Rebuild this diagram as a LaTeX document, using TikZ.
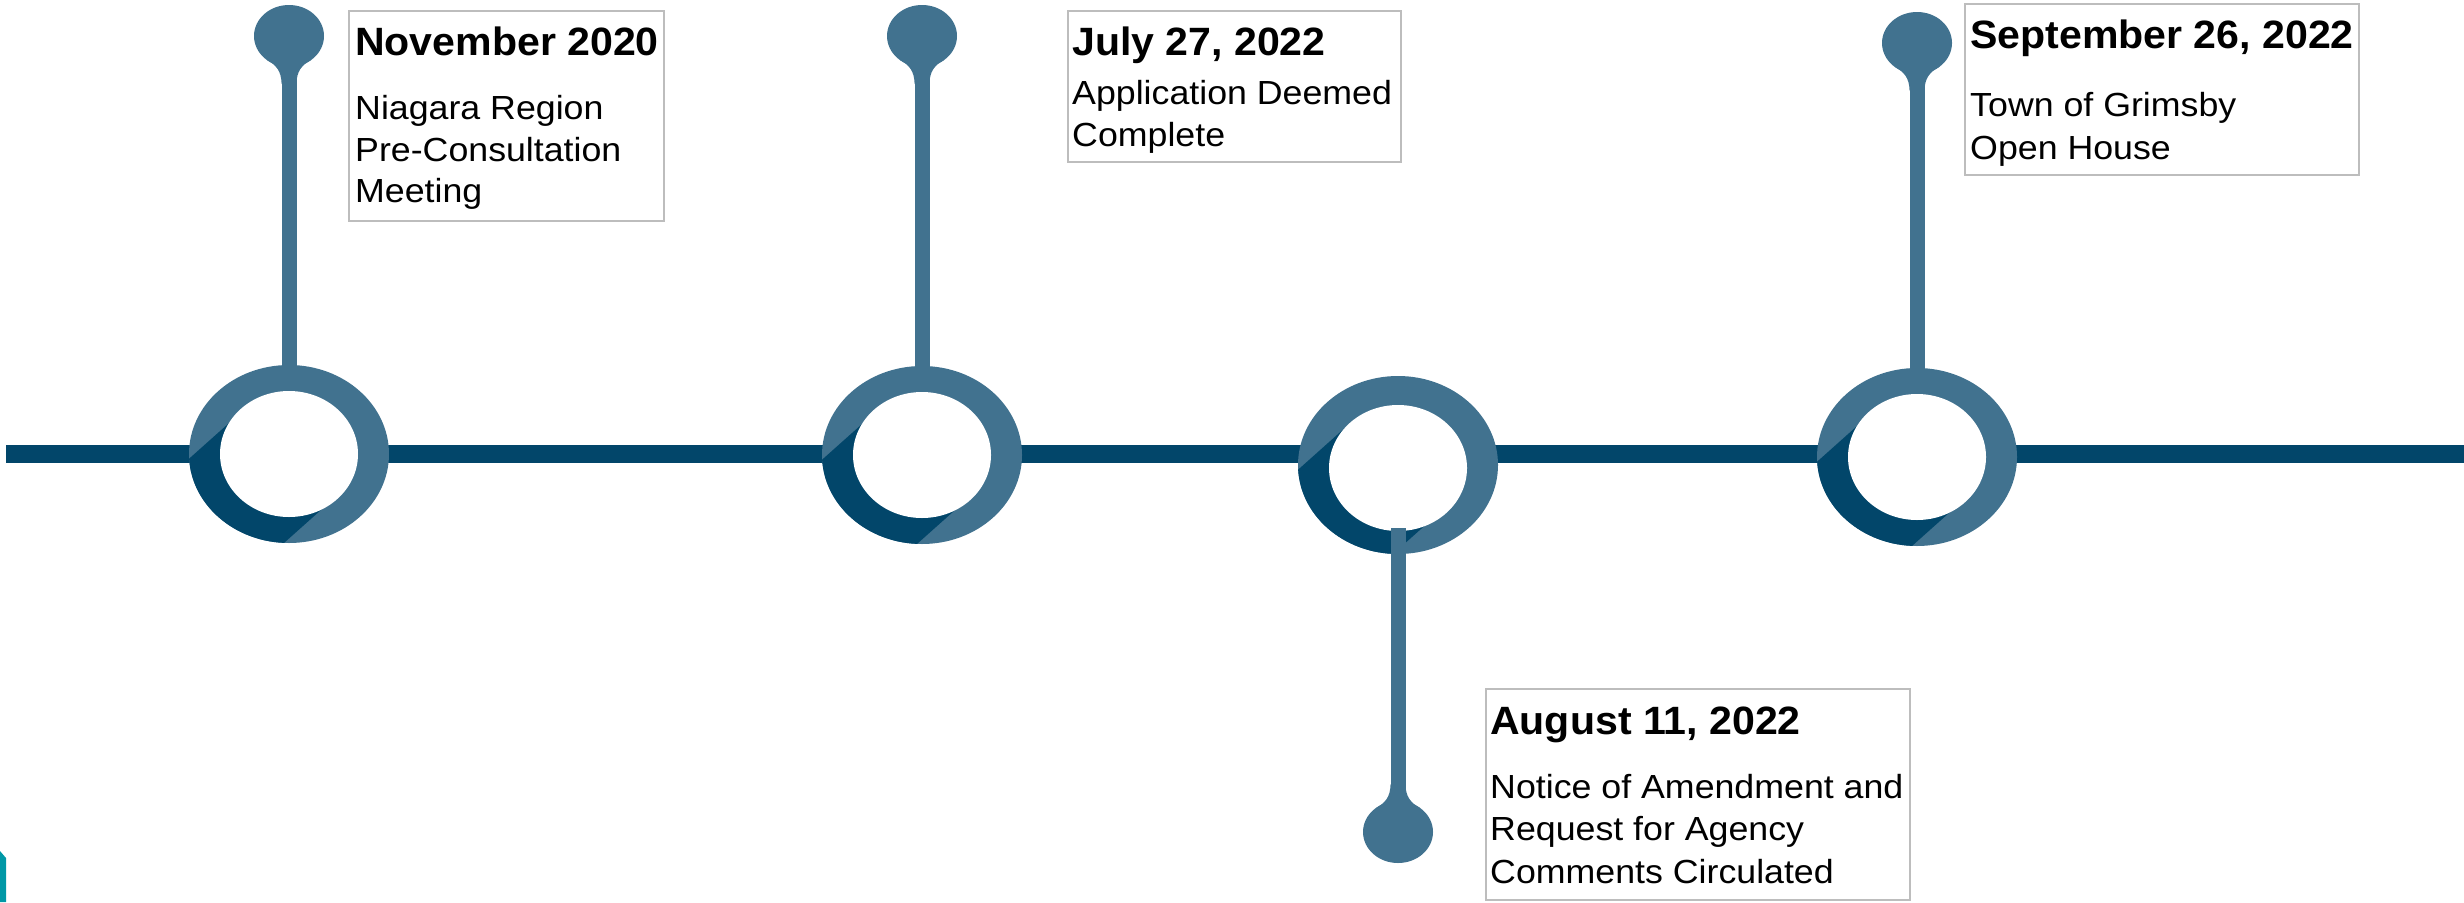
\documentclass[tikz,border=0pt]{standalone}
\usepackage{fontspec}
\setmainfont{Liberation Sans}[FakeStretch=1.07]
\newfontfamily\titlefont{Liberation Sans}[FakeStretch=1.04]
\usetikzlibrary{calc}
\definecolor{pinlight}{HTML}{41728F}
\definecolor{navydark}{HTML}{02466A}
\definecolor{boxgray}{HTML}{BDBDBD}
\definecolor{accentteal}{HTML}{0098A6}
\tikzset{
  ttl/.style={anchor=base west, inner sep=0pt, font=\titlefont\bfseries\fontsize{39.5}{42}\selectfont},
  bdy/.style={anchor=base west, inner sep=0pt, font=\fontsize{33.4}{36}\selectfont},
  infobox/.style={draw=boxgray, line width=2pt, inner sep=0pt, rectangle},
  stemline/.style={draw=pinlight, line width=15pt},
  axisline/.style={draw=navydark, line width=18pt},
}
% ring: x, y, inner vertical offset
\newcommand\timelinering[3]{%
  \fill[pinlight] (#1,#2) ellipse [x radius=100, y radius=89];
  \begin{scope}
    \clip (#1,#2) ++(42,47) -- ++(-84,-94) -- ++(-149,133) -- ++(84,94) -- cycle;
    \fill[navydark] (#1,#2) ellipse [x radius=100, y radius=89];
  \end{scope}
  \fill[white] (#1,#2+#3) ellipse [x radius=69, y radius=63];
}
% pin head: x, y, direction (+1 stem below, -1 stem above)
\newcommand\pinknob[3]{%
  \fill[pinlight] (#1,#2) ellipse [x radius=35, y radius=31];
  \fill[pinlight] (#1-7.5,#2+#3*48) .. controls (#1-7.5,#2+#3*35) and (#1-13,#2+#3*29) .. (#1-22,#2+#3*24) -- (#1,#2) -- cycle;
  \fill[pinlight] (#1+7.5,#2+#3*48) .. controls (#1+7.5,#2+#3*35) and (#1+13,#2+#3*29) .. (#1+22,#2+#3*24) -- (#1,#2) -- cycle;
}
\begin{document}
\begin{tikzpicture}[x=1pt,y=-1pt]
\useasboundingbox (0,0) rectangle (2464,902);

% named anchor points
\coordinate (lstart) at (6,454);
\coordinate (lend) at (2464,454);
\coordinate (r1) at (289,454);
\coordinate (r2) at (922,455);
\coordinate (r3) at (1398,465);
\coordinate (r4) at (1917,457);
\coordinate (p1) at (289,36);
\coordinate (p2) at (922,36);
\coordinate (p3) at (1398,832);
\coordinate (p4) at (1917,43);

% small teal corner mark
\fill[accentteal] (0,902) -- (0,851) -- (6,858) -- (6,902) -- cycle;

% main axis
\draw[axisline] (lstart) -- (lend);

% rings
\timelinering{289}{454}{0}
\timelinering{922}{455}{0}
\timelinering{1398}{465}{3}
\timelinering{1917}{457}{0}

% stems
\draw[stemline] (p1) -- ($(r1)+(0,-84)$);
\draw[stemline] (p2) -- ($(r2)+(0,-84)$);
\draw[stemline] ($(r3)+(0,63)$) -- (p3);
\draw[stemline] (p4) -- ($(r4)+(0,-84)$);

% pin heads
\pinknob{289}{36}{1}
\pinknob{922}{36}{1}
\pinknob{1398}{832}{-1}
\pinknob{1917}{43}{1}

% boxes
\node[infobox, minimum width=315pt, minimum height=210pt] (b1) at (506.5,116) {};
\node[infobox, minimum width=333pt, minimum height=151pt] (b2) at (1234.5,86.5) {};
\node[infobox, minimum width=424pt, minimum height=211pt] (b3) at (1698,794.5) {};
\node[infobox, minimum width=394pt, minimum height=171pt] (b4) at (2162,89.5) {};

% texts
\node[ttl] (t1) at (355,55) {November 2020};
\node[bdy] (t1a) at (355,119) {Niagara Region};
\node[bdy] (t1b) at (355,161) {Pre-Consultation};
\node[bdy] (t1c) at (355,202) {Meeting};

\node[ttl] (t2) at (1072,55) {July 27, 2022};
\node[bdy] (t2a) at (1072,104) {Application Deemed};
\node[bdy] (t2b) at (1072,146) {Complete};

\node[ttl] (t3) at (1490,734) {August 11, 2022};
\node[bdy] (t3a) at (1490,798) {Notice of Amendment and};
\node[bdy] (t3b) at (1490,840) {Request for Agency};
\node[bdy] (t3c) at (1490,883) {Comments Circulated};

\node[ttl] (t4) at (1970,48) {September 26, 2022};
\node[bdy] (t4a) at (1970,116) {Town of Grimsby};
\node[bdy] (t4b) at (1970,159) {Open House};
\end{tikzpicture}
\end{document}
